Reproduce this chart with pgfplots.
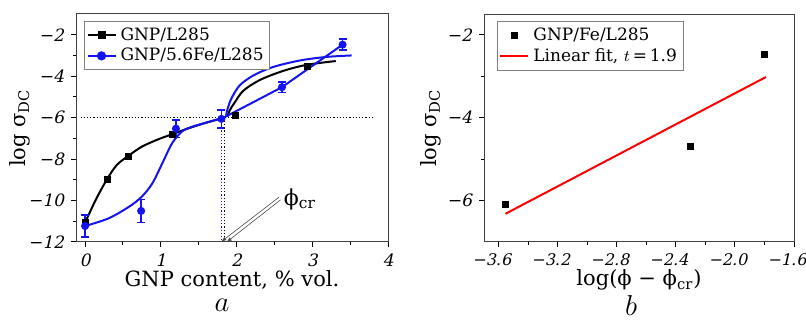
\documentclass[border=0pt]{standalone}
\usepackage{fontspec}
\setmainfont{DejaVu Serif}[ItalicFont={DejaVu Serif}, ItalicFeatures={FakeSlant=0.22}]
\usepackage{pgfplots}
\pgfplotsset{compat=1.18}
\usetikzlibrary{arrows.meta}
\definecolor{myblue}{RGB}{20,20,240}
\newcommand{\tl}[1]{\textit{#1}}
\begin{document}
\begin{tikzpicture}
\useasboundingbox (-38pt,-39pt) rectangle (365pt,121pt);
\pgfplotsset{
  every axis/.append style={
    scale only axis, clip=false,
    axis line style={black!75, line width=0.5pt},
    tick align=outside, tick pos=left,
    major tick length=2.5pt, minor tick length=1.5pt,
    every tick/.style={black, line width=0.5pt},
    xticklabel style={font=\fontsize{8.5}{10}\selectfont},
    yticklabel style={font=\fontsize{8.5}{10}\selectfont},
    label style={font=\fontsize{10.5}{12}\selectfont},
    xlabel shift=-5pt,
    legend style={font=\fontsize{8.5}{10}\selectfont, draw=black!50, inner sep=1pt, row sep=-1.5pt, cells={anchor=west}},
    legend image code/.code={\draw[mark repeat=2,mark phase=2,#1] plot coordinates {(0pt,0pt)(7pt,0pt)(14pt,0pt)};},
  }
}
\begin{axis}[width=156pt, height=114pt,
  xmin=-0.12, xmax=4, ymin=-12, ymax=-1,
  xtick={0,1,2,3,4}, xticklabels={\tl{0},\tl{1},\tl{2},\tl{3},\tl{4}},
  ytick={-12,-10,-8,-6,-4,-2}, yticklabels={\tl{−12},\tl{−10},\tl{−8},\tl{−6},\tl{−4},\tl{−2}},
  minor x tick num=1, minor y tick num=1,
  xlabel={GNP content, \% vol.}, ylabel={log σ\textsubscript{DC}},
  ylabel shift=-8pt,
  legend style={at={(0.026,0.969)}, anchor=north west}]
\addlegendimage{black, line width=1pt, mark=square*, mark size=1.5pt}
\addlegendentry{GNP/L285}
\addlegendimage{myblue, line width=1pt, mark=*, mark size=1.8pt}
\addlegendentry{GNP/5.6Fe/L285}
% dotted guides
\addplot[black, densely dotted, line width=0.6pt, forget plot] coordinates {(-0.06,-6) (3.79,-6)};
\addplot[myblue, densely dotted, line width=0.6pt, forget plot] coordinates {(1.80,-6) (1.80,-12)};
\addplot[black, densely dotted, line width=0.6pt, forget plot] coordinates {(1.84,-6) (1.84,-12)};
% black lower fit
\addplot[black, line width=1pt, smooth, forget plot] coordinates {
(0,-11.07) (0.14,-9.97) (0.29,-8.97) (0.42,-8.28) (0.57,-7.85) (0.75,-7.4) (0.97,-7.04) (1.15,-6.8) (1.37,-6.51) (1.64,-6.2) (1.83,-6.02)};
% black upper fit
\addplot[black, line width=1pt, smooth, forget plot] coordinates {
(1.88,-5.95) (1.91,-5.65) (1.97,-5.3) (2.09,-4.7) (2.31,-4.18) (2.62,-3.74) (2.93,-3.45) (3.31,-3.27)};
% blue lower fit
\addplot[myblue, line width=1pt, smooth, forget plot] coordinates {
(0,-11.23) (0.31,-10.86) (0.58,-10.3) (0.75,-9.81) (0.89,-9.16) (1.02,-8.2) (1.15,-7.23) (1.28,-6.67) (1.42,-6.43) (1.64,-6.2) (1.81,-6.02)};
% blue upper fit
\addplot[myblue, line width=1pt, smooth, forget plot] coordinates {
(1.86,-5.95) (1.88,-5.6) (1.93,-5.09) (2.04,-4.45) (2.22,-3.97) (2.48,-3.56) (2.84,-3.24) (3.19,-3.07) (3.52,-3.0)};
% blue straight segments
\addplot[myblue, line width=1pt, forget plot] coordinates {(1.8,-6.06) (2.6,-4.53) (3.4,-2.48)};
% black data
\addplot[only marks, mark=square*, mark size=1.5pt, black, forget plot] coordinates {
(0,-11.07) (0.29,-8.97) (0.57,-7.85) (1.15,-6.8) (1.99,-5.88) (2.93,-3.52)};
% blue data
\addplot[only marks, mark=*, mark size=1.8pt, myblue, forget plot,
  error bars/.cd, y dir=both, y explicit,
  error bar style={line width=0.8pt},
  error mark options={rotate=90, mark size=2pt, line width=0.8pt}] coordinates {
(0,-11.23) +- (0,0.52)
(0.74,-10.5) +- (0,0.55)
(1.2,-6.53) +- (0,0.42)
(1.8,-6.06) +- (0,0.43)
(2.6,-4.53) +- (0,0.26)
(3.4,-2.48) +- (0,0.27)};
% phi_cr annotation
\draw[black!70, line width=0.3pt, -{Latex[length=2.5pt,width=2pt]}] (axis cs:2.56,-9.84) -- (axis cs:1.80,-11.98);
\draw[black!70, line width=0.3pt, -{Latex[length=2.5pt,width=2pt]}] (axis cs:2.58,-9.97) -- (axis cs:1.87,-12.0);
\node[anchor=west, font=\fontsize{11}{13}\selectfont, inner sep=0pt] at (axis cs:2.62,-9.95) {ϕ\textsubscript{cr}};
\end{axis}
\node[font=\fontsize{14}{15}\selectfont] at (73pt,-31.5pt) {$a$};
\begin{axis}[at={(204pt,0pt)}, anchor=south west, width=155pt, height=114pt,
  xmin=-3.7, xmax=-1.6, ymin=-7, ymax=-1.5,
  xtick={-3.6,-3.2,-2.8,-2.4,-2.0,-1.6}, xticklabels={\tl{−3.6},\tl{−3.2},\tl{−2.8},\tl{−2.4},\tl{−2.0},\tl{−1.6}},
  xticklabel style={xshift=-3.5pt, inner xsep=0.5pt, font=\fontsize{8}{10}\selectfont},
  ytick={-6,-4,-2}, yticklabels={\tl{−6},\tl{−4},\tl{−2}},
  minor x tick num=1, minor y tick num=1,
  xlabel={log(ϕ − ϕ\textsubscript{cr})}, ylabel={log σ\textsubscript{DC}},
  ylabel shift=-4pt,
  legend style={at={(0.042,0.969)}, anchor=north west}]
\addplot[only marks, mark=square*, mark size=1.5pt, black] coordinates {
(-3.555,-6.1) (-2.30,-4.69) (-1.80,-2.48)};
\addlegendentry{GNP/Fe/L285}
\addplot[red, line width=1pt, no marks] coordinates {(-3.555,-6.32) (-1.79,-3.02)};
\addlegendentry{Linear fit, $t$\,=\,1.9}
\end{axis}
\node[font=\fontsize{14}{15}\selectfont] at (277.5pt,-31.5pt) {$b$};
\end{tikzpicture}
\end{document}
